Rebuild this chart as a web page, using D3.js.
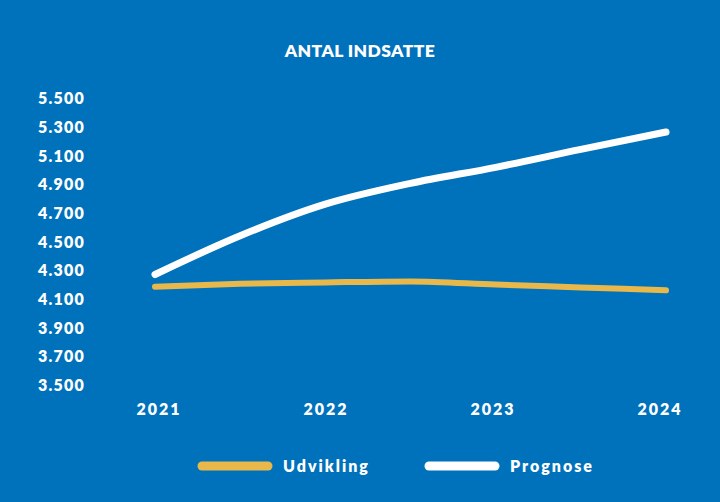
<!DOCTYPE html>
<html><head><meta charset="utf-8">
<script src="https://cdn.jsdelivr.net/npm/d3@7"></script>
<style>html,body{margin:0;padding:0;background:#0071bb;}</style>
</head><body>
<svg id="c" width="720" height="502"></svg>
<script>
const title = "ANTAL INDSATTE";
const years = [2021, 2022, 2023, 2024];
const timePoints = [2021, 2021.5, 2022, 2022.5, 2023, 2023.5, 2024];
const udvikling = [4185, 4205, 4215, 4222, 4200, 4180, 4160];
const prognose = [4270, 4540, 4760, 4905, 5017, 5142, 5263];
const yTicks = [3500, 3700, 3900, 4100, 4300, 4500, 4700, 4900, 5100, 5300, 5500];
const seriesNames = ["Udvikling", "Prognose"];
const seriesColors = ["#e9b84a", "#ffffff"];

const svg = d3.select("#c");
svg.append("rect").attr("width",720).attr("height",502).attr("fill","#0071bb");
const font = "Lato, 'Open Sans', sans-serif";

const x = d3.scaleLinear().domain([2021, 2024]).range([155, 666]);
const xLab = d3.scalePoint().domain(years).range([159, 660]);
const y = d3.scaleLinear().domain([3500, 5500]).range([385, 98]);

svg.append("text").attr("x",360).attr("y",52).attr("text-anchor","middle")
  .attr("dominant-baseline","middle").attr("fill","#fff").attr("font-family",font)
  .attr("font-weight",800).attr("font-size",17.5).attr("letter-spacing",0.4).text(title);

const fmt = v => d3.format(",")(v).replace(/,/g, ".");
svg.append("g").selectAll("text").data(yTicks).join("text")
  .attr("x",38).attr("y",d=>y(d)+2).attr("dominant-baseline","middle")
  .attr("fill","#fff").attr("font-family",font).attr("font-weight",800)
  .attr("font-size",16).attr("letter-spacing",1.2).text(fmt);

svg.append("g").selectAll("text").data(years).join("text")
  .attr("x",d=>xLab(d)).attr("y",411).attr("text-anchor","middle").attr("dominant-baseline","middle")
  .attr("fill","#fff").attr("font-family",font).attr("font-weight",800)
  .attr("font-size",16).attr("letter-spacing",2).text(d=>d);

const line = d3.line().x((d,i)=>x(timePoints[i])).y(d=>y(d)).curve(d3.curveMonotoneX);
[udvikling, prognose].forEach((s,i)=>{
  svg.append("path").attr("d",line(s)).attr("fill","none").attr("stroke",seriesColors[i])
    .attr("stroke-width", i===1?7:6).attr("stroke-linecap","round").attr("stroke-linejoin","round");
});

const legX = [198, 425];
seriesNames.forEach((n,i)=>{
  svg.append("line").attr("x1",legX[i]+4).attr("x2",legX[i]+70).attr("y1",466).attr("y2",466)
    .attr("stroke",seriesColors[i]).attr("stroke-width",9).attr("stroke-linecap","round");
  svg.append("text").attr("x",legX[i]+85).attr("y",468).attr("dominant-baseline","middle")
    .attr("fill","#fff").attr("font-family",font).attr("font-weight",800)
    .attr("font-size",16).attr("letter-spacing",2).text(n);
});
</script>
</body></html>
